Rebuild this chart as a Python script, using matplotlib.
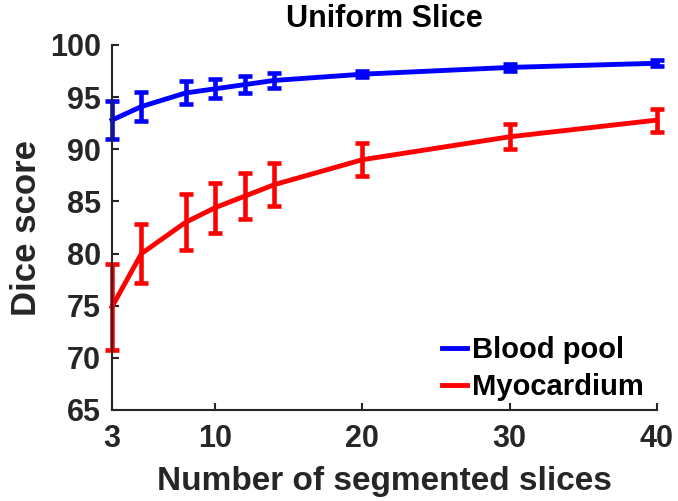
import matplotlib
matplotlib.use("Agg")
import matplotlib.pyplot as plt
from matplotlib.lines import Line2D

# ---------------------------------------------------------------------------
# data
# ---------------------------------------------------------------------------
n_slices = [3, 5, 8, 10, 12, 14, 20, 30, 40]

blood_mean = [92.8, 94.1, 95.4, 95.8, 96.2, 96.6, 97.2, 97.85, 98.25]
blood_err = [1.8, 1.4, 1.1, 0.9, 0.8, 0.7, 0.3, 0.3, 0.3]

myo_mean = [74.9, 80.0, 83.0, 84.4, 85.5, 86.6, 89.0, 91.2, 92.8]
myo_err = [4.1, 2.8, 2.7, 2.4, 2.2, 2.05, 1.6, 1.2, 1.1]

x_ticks = [3, 10, 20, 30, 40]
y_ticks = [65, 70, 75, 80, 85, 90, 95, 100]

plt.rcParams["font.family"] = ["Liberation Sans", "DejaVu Sans"]
plt.rcParams["font.weight"] = "bold"
ink = "#262626"

fig = plt.figure(figsize=(6.78, 5.01), dpi=100)
ax = fig.add_axes([112 / 678, 91 / 501, 545 / 678, 365 / 501])

for mean, err, col in [(blood_mean, blood_err, "blue"), (myo_mean, myo_err, "red")]:
    cont = ax.errorbar(n_slices, mean, yerr=err, color=col, lw=3.5,
                       elinewidth=3.3, capsize=4.8, capthick=3.3)
    cont.lines[0].set_clip_on(False)
    for art in cont.lines[1] + cont.lines[2]:
        art.set_clip_on(False)

ax.set_xlim(3, 40)
ax.set_ylim(65, 100)
ax.set_xticks(x_ticks)
ax.set_yticks(y_ticks)
for s in ["top", "right"]:
    ax.spines[s].set_visible(False)
for s in ["left", "bottom"]:
    ax.spines[s].set_color(ink)
    ax.spines[s].set_linewidth(1.5)
ax.tick_params(direction="in", length=5, width=1.5, colors=ink,
               labelsize=22)
ax.tick_params(axis="x", pad=10)
ax.tick_params(axis="y", pad=8)
for lab in ax.get_xticklabels() + ax.get_yticklabels():
    lab.set_fontweight("bold")

ax.set_xlabel("Number of segmented slices", fontsize=24, fontweight="bold",
              color=ink, labelpad=9)
ax.set_ylabel("Dice score", fontsize=25, fontweight="bold", color=ink,
              labelpad=5)
ax.set_title("Uniform Slice", fontsize=22, fontweight="bold", color="black",
             pad=13)

handles = [Line2D([], [], color="blue", lw=3.5),
           Line2D([], [], color="red", lw=3.5)]
ax.legend(handles, ["Blood pool", "Myocardium"], loc="lower right",
          bbox_to_anchor=(0.975, 0.025), frameon=False,
          handlelength=0.85, handletextpad=0.15, borderaxespad=0.0,
          borderpad=0.0, labelspacing=0.3,
          prop={"weight": "bold", "size": 21})

fig.savefig("out.png", dpi=100)
